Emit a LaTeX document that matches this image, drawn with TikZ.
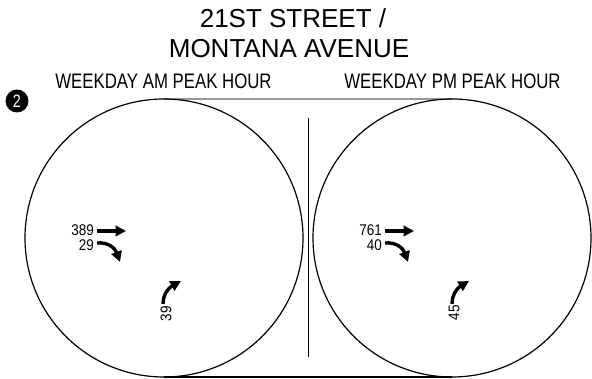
\documentclass[tikz,border=0pt]{standalone}
\usepackage{fontspec}
\setmainfont{Liberation Sans}
\usetikzlibrary{arrows.meta}
\tikzset{
  ring/.style={draw=black, line width=1.2pt},
  titletext/.style={font=\fontsize{26}{28}\selectfont, inner sep=0pt},
  captext/.style={inner sep=0pt},
  numtext/.style={inner sep=0pt, anchor=east},
  volnum/.style={inner sep=0pt},
  movearrow/.style={line width=3.4pt, -{Triangle[length=10.5pt,width=10.5pt]}},
  badge/.style={circle, fill=black, minimum size=23pt, inner sep=0pt, text=white}
}
\newcommand{\captxt}[1]{\scalebox{0.8}[1]{\fontsize{21}{21}\selectfont #1}}
\newcommand{\numtxt}[1]{\scalebox{0.87}[1]{\fontsize{15.5}{15.5}\selectfont #1}}
\begin{document}
\begin{tikzpicture}[x=1pt,y=1pt]
\useasboundingbox (0,0) rectangle (592,379);
% frame lines
\coordinate (tl) at (164,280);
\coordinate (tr) at (452,280);
\coordinate (bl) at (164,2);
\coordinate (br) at (452,2);
\draw[gray!80, line width=1.5pt] (tl) -- (tr);
\draw[black, line width=1.2pt] (bl) -- (br);
\coordinate (vt) at (308,261);
\coordinate (vb) at (308,22);
\draw[black, line width=0.8pt] (vt) -- (vb);
% circles
\node[ring, circle, minimum size=278pt, inner sep=0pt] (lc) at (164,141) {};
\node[ring, circle, minimum size=278pt, inner sep=0pt] (rc) at (452,141) {};
% titles
\node[titletext] (t1) at (293,360.5) {21ST STREET /};
\node[titletext] (t2) at (289,330.5) {MONTANA AVENUE};
\node[badge] (b) at (17,278) {\scalebox{0.8}[1]{\fontsize{18}{18}\selectfont 2}};
\node[captext] (c1) at (163.5,298) {\captxt{WEEKDAY AM PEAK HOUR}};
\node[captext] (c2) at (452.5,298) {\captxt{WEEKDAY PM PEAK HOUR}};
% left circle movements
\node[numtext] (n389) at (94,148.5) {\numtxt{389}};
\node[numtext] (n29) at (94,134) {\numtxt{29}};
\coordinate (a1s) at (97,148); \coordinate (a1e) at (126,148);
\draw[movearrow] (a1s) -- (a1e);
\coordinate (a2s) at (97,136); \coordinate (a2e) at (120,117);
\draw[movearrow] (a2s) .. controls (108,137) and (115,131) .. (a2e);
\coordinate (a3s) at (163,75); \coordinate (a3e) at (181,98);
\draw[movearrow] (a3s) .. controls (163,86) and (170,92) .. (a3e);
\node[volnum, rotate=90] (n39) at (166,65) {\numtxt{39}};
% right circle movements
\node[numtext] (n761) at (382,148.5) {\numtxt{761}};
\node[numtext] (n40) at (382,134) {\numtxt{40}};
\coordinate (b1s) at (385,148); \coordinate (b1e) at (414,148);
\draw[movearrow] (b1s) -- (b1e);
\coordinate (b2s) at (385,136); \coordinate (b2e) at (408,117);
\draw[movearrow] (b2s) .. controls (396,137) and (403,131) .. (b2e);
\coordinate (b3s) at (452,75); \coordinate (b3e) at (469,98);
\draw[movearrow] (b3s) .. controls (452,86) and (459,92) .. (b3e);
\node[volnum, rotate=90] (n45) at (454,66) {\numtxt{45}};
\end{tikzpicture}
\end{document}
